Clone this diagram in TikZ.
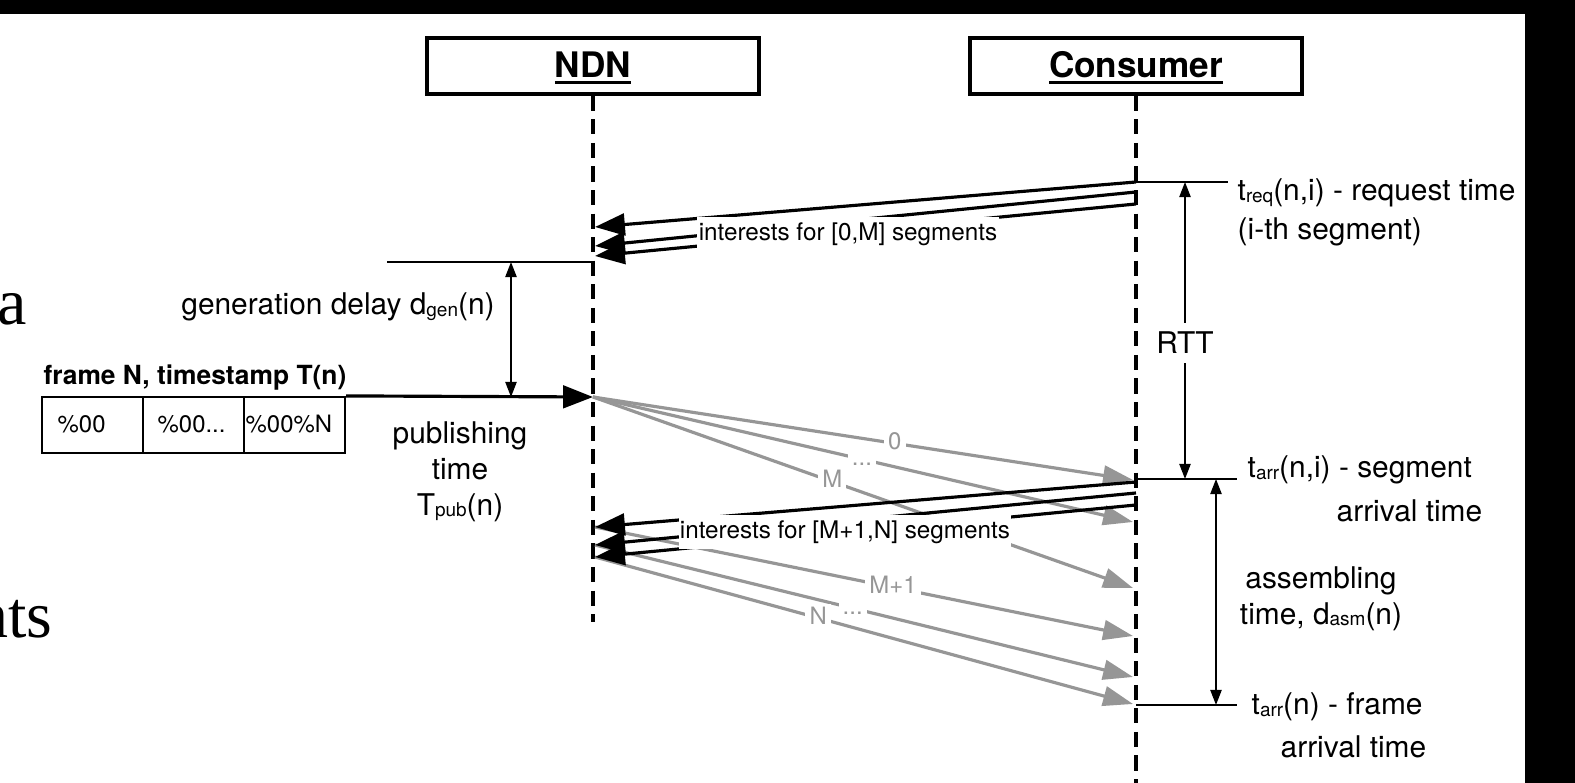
\documentclass[tikz,border=0pt]{standalone}
\usepackage{fontspec}
\setmainfont{TeX Gyre Heros}
\newfontfamily\slideserif{Liberation Serif}
\usetikzlibrary{arrows.meta}
\definecolor{datagray}{RGB}{150,150,150}
% small lowered index text, as in d_gen(n)
\newcommand\lowsub[1]{\raisebox{-0.4pt}{\fontsize{5.4pt}{6pt}\selectfont #1}}
% heavy underline for the participant names
\newcommand\actorname[1]{\leavevmode\setbox0\hbox{#1}\rlap{\rule[-1.75pt]{\wd0}{0.7pt}}\box0}
\begin{document}
\begin{tikzpicture}[x=0.01cm,y=-0.01cm,
  every node/.style={inner sep=0pt},
  actor/.style={draw, line width=1pt, minimum width=3.32cm, minimum height=0.56cm,
    font=\fontsize{10pt}{12pt}\selectfont\bfseries, text height=7.2pt, text depth=0.5pt},
  lifeline/.style={line width=1.05pt, dash pattern=on 4.3pt off 2.4pt},
  interest/.style={line width=0.9pt, -{Triangle[length=8.5pt,width=6.2pt]}},
  pubarrow/.style={line width=0.9pt, -{Triangle[length=8.5pt,width=6.4pt]}},
  datamsg/.style={line width=0.9pt, datagray, -{Triangle[length=8.5pt,width=5.6pt]}},
  tickline/.style={line width=0.5pt},
  spanarrow/.style={line width=0.5pt,
    {Triangle[length=4.3pt,width=3.2pt]}-{Triangle[length=4.3pt,width=3.2pt]}},
  annot/.style={font=\fontsize{8.5pt}{10.2pt}\selectfont},
  msglabel/.style={fill=white, font=\fontsize{6.9pt}{8pt}\selectfont,
    inner xsep=0.4pt, inner ysep=1.6pt},
  seglabel/.style={fill=white, text=datagray, font=\fontsize{6.8pt}{8pt}\selectfont,
    inner xsep=1.2pt, inner ysep=0.8pt, text height=4.9pt, text depth=1.4pt},
  segbox/.style={draw, line width=0.6pt, minimum width=1.01cm, minimum height=0.56cm},
  segtext/.style={font=\fontsize{6.8pt}{8pt}\selectfont},
]
\useasboundingbox (0,0) rectangle (1575,783);
\clip (0,0) rectangle (1575,783);
\fill[white] (0,0) rectangle (1575,783);

% frame bars
\fill[black] (0,0) rectangle (1525,14);
\fill[black] (1525,0) rectangle (1575,783);

% slide text behind the figure
\node[anchor=base east, font=\slideserif\fontsize{18.8pt}{20pt}\selectfont] (remA) at (28,325) {a};
\node[anchor=base east, font=\slideserif\fontsize{18.8pt}{20pt}\selectfont] (remB) at (53,638) {nts};

% participants and lifelines
\node[actor] (ndn) at (593,66) {\actorname{NDN}};
\node[actor] (cons) at (1136,66) {\actorname{Consumer}};
\coordinate (ndnEnd) at (593,622);
\coordinate (consEnd) at (1136,790);
\draw[lifeline] (ndn.south) -- (ndnEnd);
\draw[lifeline] (cons.south) -- (consEnd);

% points on the lifelines
\coordinate (cA1) at (1136,182);
\coordinate (cB1) at (1136,192);
\coordinate (cC1) at (1136,204);
\coordinate (nA1) at (595,227);
\coordinate (nB1) at (595,246);
\coordinate (nC1) at (595,256);
\coordinate (cA2) at (1136,482);
\coordinate (cB2) at (1136,493);
\coordinate (cC2) at (1136,505);
\coordinate (nA2) at (595,527);
\coordinate (nB2) at (595,545);
\coordinate (nC2) at (595,557);
\coordinate (pubTip) at (593,397);
\coordinate (cD0) at (1133,480);
\coordinate (cD1) at (1133,522);
\coordinate (cD2) at (1133,588);
\coordinate (cE0) at (1133,636);
\coordinate (cE1) at (1133,677);
\coordinate (cE2) at (1133,704);

% generation delay
\coordinate (genL) at (387,262);
\coordinate (genR) at (593,262);
\coordinate (genTop) at (511,262);
\coordinate (genBot) at (511,397);
\draw[tickline] (genL) -- (genR);
\draw[spanarrow] (genTop) -- (genBot);
\node[annot, anchor=base] (gentext) at (338,315) {generation delay d\lowsub{gen}(n)};

% the frame and its segments
\node[anchor=base west, font=\fontsize{7.5pt}{9pt}\selectfont\bfseries] (frametitle) at (43,385) {frame N, timestamp T(n)};
\node[segbox] (seg0) at (92.5,425) {};
\node[segbox] (seg1) at (193.5,425) {};
\node[segbox] (seg2) at (294.5,425) {};
\node[segtext, anchor=base west] (seg0t) at (57,433) {\%00};
\node[segtext, anchor=base west] (seg1t) at (157,433) {\%00...};
\node[segtext, anchor=base west] (seg2t) at (245,433) {\%00\%N};

% publishing
\draw[pubarrow] (seg2.north east) -- (pubTip);
\node[annot, align=center, anchor=north] (pubtext) at (460,421) {publishing\\time\\T\lowsub{pub}(n)};

% data segments travelling to the consumer
\draw[datamsg] (pubTip) -- node[seglabel, pos=0.559] (l0) {0} (cD0);
\draw[datamsg] (pubTip) -- node[seglabel, pos=0.498] (l1) {...} (cD1);
\draw[datamsg] (pubTip) -- node[seglabel, pos=0.443] (l2) {M} (cD2);
\draw[datamsg] (nA2) -- node[seglabel, pos=0.554] (l3) {M+1} (cE0);
\draw[datamsg] (nB2) -- node[seglabel, pos=0.479] (l4) {...} (cE1);
\draw[datamsg] (nC2) -- node[seglabel, pos=0.415] (l5) {N} (cE2);

% interests
\draw[interest] (cA1) -- (nA1);
\draw[interest] (cB1) -- (nB1);
\draw[interest] (cC1) -- (nC1);
\draw[interest] (cA2) -- (nA2);
\draw[interest] (cB2) -- (nB2);
\draw[interest] (cC2) -- (nC2);
\node[msglabel] (int1) at (848,234) {interests for [0,M] segments};
\node[msglabel] (int2) at (845,532) {interests for [M+1,N] segments};

% consumer side timing
\coordinate (reqR) at (1228,182);
\coordinate (arrL) at (1136,479);
\coordinate (arrR) at (1237,479);
\coordinate (frmL) at (1136,705);
\coordinate (frmR) at (1237,705);
\coordinate (rttTop) at (1185,182);
\coordinate (rttBot) at (1185,479);
\coordinate (asmTop) at (1216,479);
\coordinate (asmBot) at (1216,705);
\draw[tickline] (cA1) -- (reqR);
\draw[tickline] (arrL) -- (arrR);
\draw[tickline] (frmL) -- (frmR);
\draw[spanarrow] (rttTop) -- node[annot, fill=white, inner xsep=1pt, inner ysep=2.6pt, pos=0.542] (rtt) {RTT} (rttBot);
\draw[spanarrow] (asmTop) -- (asmBot);

\node[annot, anchor=base west] (treq) at (1237,201) {t\lowsub{req}(n,i) - request time};
\node[annot, anchor=base west] (treq2) at (1237,240) {(i-th segment)};
\node[annot, anchor=base west] (tarr) at (1247,478) {t\lowsub{arr}(n,i) - segment};
\node[annot, anchor=base west] (tarr2) at (1336,522) {arrival time};
\node[annot, align=center, anchor=north] (asm) at (1321,566) {assembling\\time, d\lowsub{asm}(n)};
\node[annot, anchor=base west] (tfrm) at (1251,715) {t\lowsub{arr}(n) - frame};
\node[annot, anchor=base west] (tfrm2) at (1280,758) {arrival time};
\end{tikzpicture}
\end{document}
